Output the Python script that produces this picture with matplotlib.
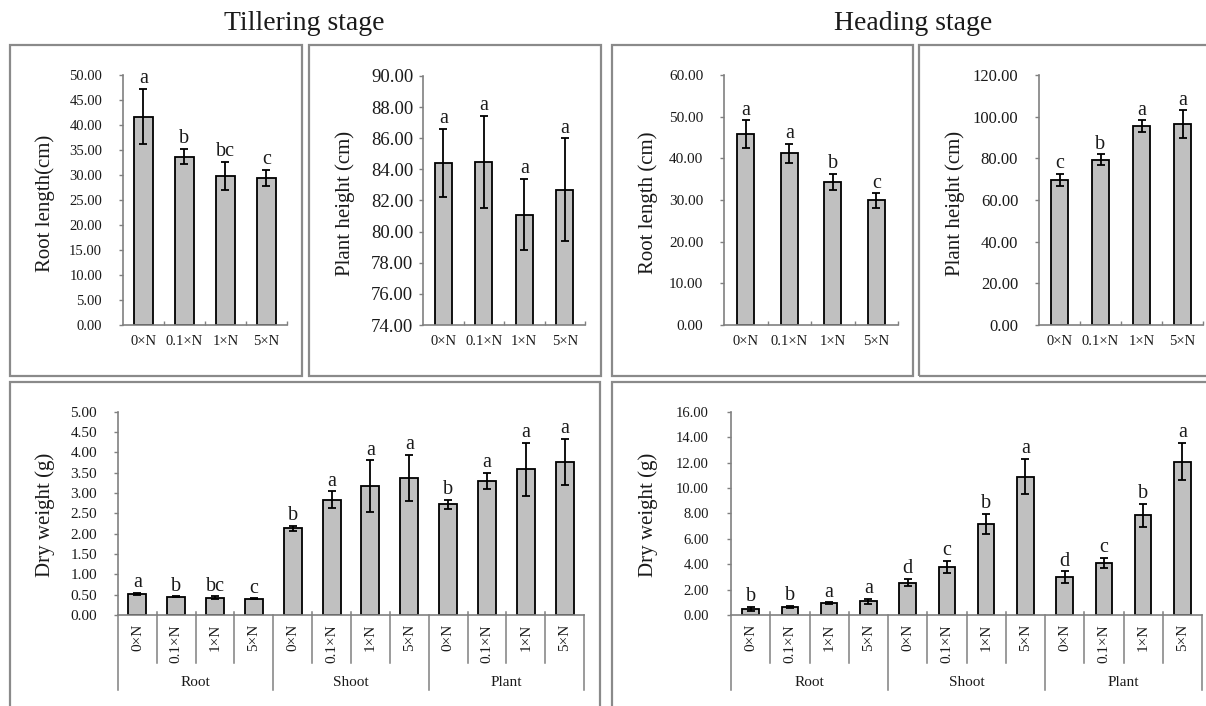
import matplotlib
matplotlib.use("Agg")
import matplotlib.pyplot as plt
from matplotlib.patches import Rectangle
import numpy as np

plt.rcParams['font.family'] = ['Liberation Serif', 'DejaVu Serif']

# ---------------- data ----------------
treatments = ['0×N', '0.1×N', '1×N', '5×N']
organs = ['Root', 'Shoot', 'Plant']

till_root_len = [41.7, 33.7, 29.8, 29.5]
till_root_len_err = [5.5, 1.5, 2.8, 1.6]
till_root_len_let = ['a', 'b', 'bc', 'c']

till_height = [84.4, 84.5, 81.1, 82.7]
till_height_err = [2.2, 2.95, 2.3, 3.3]
till_height_let = ['a', 'a', 'a', 'a']

head_root_len = [45.8, 41.2, 34.3, 29.9]
head_root_len_err = [3.3, 2.2, 1.9, 1.7]
head_root_len_let = ['a', 'a', 'b', 'c']

head_height = [69.6, 79.4, 95.5, 96.5]
head_height_err = [2.8, 2.5, 2.8, 6.5]
head_height_let = ['c', 'b', 'a', 'a']

till_dw_root = [0.52, 0.45, 0.43, 0.40]
till_dw_root_err = [0.02, 0.01, 0.03, 0.01]
till_dw_shoot = [2.13, 2.84, 3.17, 3.37]
till_dw_shoot_err = [0.07, 0.20, 0.63, 0.57]
till_dw_plant = [2.72, 3.30, 3.58, 3.77]
till_dw_plant_err = [0.12, 0.19, 0.65, 0.57]
till_dw_let = ['a', 'b', 'bc', 'c', 'b', 'a', 'a', 'a', 'b', 'a', 'a', 'a']

head_dw_root = [0.50, 0.63, 0.94, 1.08]
head_dw_root_err = [0.15, 0.08, 0.05, 0.18]
head_dw_shoot = [2.54, 3.78, 7.16, 10.89]
head_dw_shoot_err = [0.28, 0.50, 0.80, 1.38]
head_dw_plant = [2.96, 4.09, 7.84, 12.07]
head_dw_plant_err = [0.47, 0.41, 0.93, 1.47]
head_dw_let = ['b', 'b', 'a', 'a', 'd', 'c', 'b', 'a', 'd', 'c', 'b', 'a']

# ---------------- layout helpers ----------------
W, H = 1206, 706
fig = plt.figure(figsize=(W / 100, H / 100), dpi=100)

def px_axes(x0, y0, x1, y1):
    return fig.add_axes([x0 / W, 1 - y1 / H, (x1 - x0) / W, (y1 - y0) / H])

def box(x0, y0, x1, y1):
    fig.patches.append(Rectangle((x0 / W, 1 - y1 / H), (x1 - x0) / W, (y1 - y0) / H,
                                 transform=fig.transFigure, fill=False,
                                 edgecolor='#8a8a8a', lw=1.6))

SPINE = '#808080'
BAR = '#c0c0c0'
TXT = '#1a1a1a'

def style_axes(ax, ylim, ystep, pad, ysize):
    for s in ['top', 'right']:
        ax.spines[s].set_visible(False)
    for s in ['left', 'bottom']:
        ax.spines[s].set_color(SPINE)
        ax.spines[s].set_linewidth(1.2)
    ax.set_ylim(*ylim)
    ax.set_yticks(np.arange(ylim[0], ylim[1] + ystep / 2, ystep))
    ax.yaxis.set_major_formatter(matplotlib.ticker.FormatStrFormatter('%.2f'))
    ax.tick_params(axis='y', direction='out', length=3, width=1, color=SPINE,
                   labelsize=ysize, labelcolor=TXT, pad=pad)

def draw_bars(ax, vals, errs, lets, width):
    x = np.arange(len(vals))
    ax.bar(x, vals, width=width, color=BAR, edgecolor='black', linewidth=1.3, zorder=2)
    ax.errorbar(x, vals, yerr=errs, fmt='none', ecolor='black', elinewidth=1.3,
                capsize=3.2, capthick=1.3, zorder=3)
    for xi, v, e, l in zip(x, vals, errs, lets):
        ax.annotate(l, (xi, v + e), xytext=(0, 0.5), textcoords='offset points',
                    ha='center', va='bottom', fontsize=14.5, color=TXT,
                    annotation_clip=False)
    ax.set_xlim(-0.5, len(vals) - 0.5)

def top_panel(rect, vals, errs, lets, ylim, ystep, ylabel, ylab_x, width, pad, ysize):
    ax = px_axes(*rect)
    style_axes(ax, ylim, ystep, pad, ysize)
    draw_bars(ax, vals, errs, lets, width)
    ax.set_xticks(np.arange(4))
    ax.set_xticklabels(treatments)
    ax.set_xticks(np.arange(4) + 0.5, minor=True)
    ax.tick_params(axis='x', which='major', length=0, labelsize=10.5,
                   labelcolor=TXT, pad=7)
    ax.tick_params(axis='x', which='minor', direction='in', length=3, width=1,
                   color=SPINE)
    fig.text(ylab_x / W, 1 - ((rect[1] + rect[3]) / 2 + 3) / H, ylabel,
             rotation=90, ha='center', va='center', fontsize=15, color=TXT)
    return ax

def bottom_panel(rect, vals, errs, lets, ylim, ystep, ylabel, ylab_x, width, pad, ysize):
    ax = px_axes(*rect)
    style_axes(ax, ylim, ystep, pad, ysize)
    draw_bars(ax, vals, errs, lets, width)
    ax.set_xticks([])
    hpx = rect[3] - rect[1]
    tr = ax.get_xaxis_transform()
    n = len(vals)
    inner_low = -48 / hpx
    outer_low = -75 / hpx
    for i in range(n + 1):
        b = i - 0.5
        if i % 4 == 0:
            ax.plot([b, b], [0, outer_low], transform=tr, color=SPINE, lw=1.1,
                    clip_on=False)
        else:
            ax.plot([b, b], [3 / hpx, inner_low], transform=tr, color=SPINE, lw=1.1,
                    clip_on=False)
    for i in range(n):
        ax.text(i, -9 / hpx, treatments[i % 4], transform=tr, rotation=90,
                ha='center', va='top', fontsize=11, color=TXT)
    for g, name in enumerate(organs):
        ax.text(g * 4 + 1.5, -68 / hpx, name, transform=tr, ha='center',
                va='center', fontsize=11, color=TXT)
    fig.text(ylab_x / W, 1 - ((rect[1] + rect[3]) / 2 + 2) / H, ylabel,
             rotation=90, ha='center', va='center', fontsize=15, color=TXT)
    return ax

# ---------------- panel boxes ----------------
box(10, 45, 302, 376)
box(309, 45, 601, 376)
box(612, 45, 913, 376)
box(919, 45, 1215, 376)
box(10, 382, 600, 720)
box(612, 382, 1215, 720)

# ---------------- titles ----------------
fig.text(304.5 / W, 1 - 23 / H, 'Tillering stage', ha='center', va='center',
         fontsize=20, color=TXT)
fig.text(913.5 / W, 1 - 23 / H, 'Heading stage', ha='center', va='center',
         fontsize=20, color=TXT)

# ---------------- top panels ----------------
top_panel((123, 75, 287, 325), till_root_len, till_root_len_err, till_root_len_let,
          (0, 50), 5, 'Root length(cm)', 45, 0.45, 12, 10.5)
top_panel((423, 76, 585, 325), till_height, till_height_err, till_height_let,
          (74, 90), 2, 'Plant height (cm)', 345, 0.43, 4, 13.5)
top_panel((724, 75, 898, 325), head_root_len, head_root_len_err, head_root_len_let,
          (0, 60), 10, 'Root length (cm)', 648, 0.38, 12, 11)
top_panel((1039, 75, 1203, 325), head_height, head_height_err, head_height_let,
          (0, 120), 20, 'Plant height (cm)', 955, 0.41, 12, 12)

# ---------------- bottom panels ----------------
bottom_panel((118, 411.7, 584, 615),
             till_dw_root + till_dw_shoot + till_dw_plant,
             till_dw_root_err + till_dw_shoot_err + till_dw_plant_err,
             till_dw_let, (0, 5), 0.5, 'Dry weight (g)', 45, 0.46, 12, 11)
bottom_panel((731, 411.7, 1202, 615),
             head_dw_root + head_dw_shoot + head_dw_plant,
             head_dw_root_err + head_dw_shoot_err + head_dw_plant_err,
             head_dw_let, (0, 16), 2, 'Dry weight (g)', 648, 0.42, 13, 10.5)

fig.savefig('out.png', dpi=100, facecolor='white')
